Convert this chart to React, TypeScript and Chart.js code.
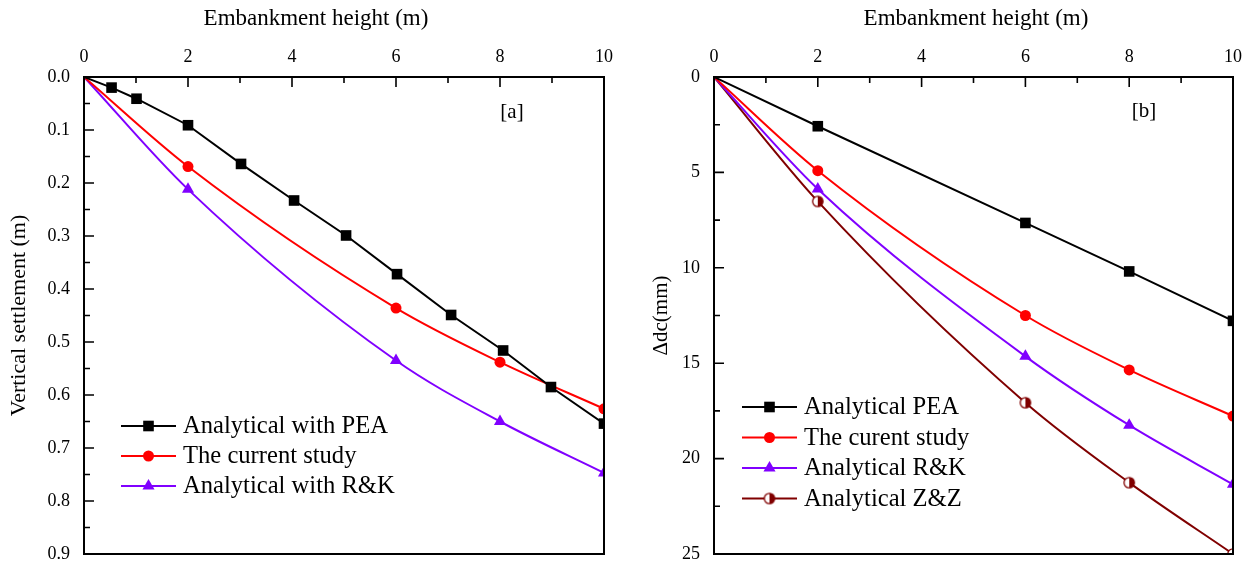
import React, { useEffect, useRef } from 'react';
import { Chart, registerables } from 'chart.js';

Chart.register(...registerables);

const FONT = '"Liberation Serif", "Times New Roman", serif';

// ---------- Panel [a] ----------
const heightPEA_a = [0, 0.53, 1.01, 2, 3.02, 4.04, 5.04, 6.02, 7.06, 8.06, 8.98, 10];
const settlePEA_a = [0, 0.02, 0.041, 0.091, 0.164, 0.233, 0.299, 0.372, 0.449, 0.516, 0.585, 0.654];
const heightCurrent_a = [0, 2, 6, 8, 10];
const settleCurrent_a = [0, 0.169, 0.436, 0.538, 0.626];
const heightRK_a = [0, 2, 6, 8, 10];
const settleRK_a = [0, 0.212, 0.535, 0.65, 0.747];
const settleTicks_a = [0, 0.1, 0.2, 0.3, 0.4, 0.5, 0.6, 0.7, 0.8, 0.9];

// ---------- Panel [b] ----------
const height_b = [0, 2, 6, 8, 10];
const dcPEA_b = [0, 2.58, 7.65, 10.19, 12.78];
const dcCurrent_b = [0, 4.91, 12.5, 15.35, 17.77];
const dcRK_b = [0, 5.87, 14.64, 18.25, 21.35];
const dcZZ_b = [0, 6.52, 17.07, 21.26, 25.0];
const dcTicks_b = [0, 5, 10, 15, 20, 25];

const heightTicks = [0, 2, 4, 6, 8, 10];

const xTitle = 'Embankment height (m)';
const labelsA = ['Analytical with PEA', 'The current study', 'Analytical with R&K'];
const labelsB = ['Analytical PEA', 'The curent study', 'Analytical R&K', 'Analytical Z&Z'];

const BLACK = '#000000';
const RED = '#ff0000';
const PURPLE = '#8000ff';
const MAROON = '#800000';

function makeHalfCircle(): HTMLCanvasElement {
  const c = document.createElement('canvas');
  c.width = 14;
  c.height = 14;
  const g = c.getContext('2d')!;
  const cx = 7, cy = 7, r = 5.2;
  g.fillStyle = '#ffffff';
  g.beginPath();
  g.arc(cx, cy, r, 0, Math.PI * 2);
  g.fill();
  g.fillStyle = MAROON;
  g.beginPath();
  g.moveTo(cx, cy - r);
  g.arc(cx, cy, r, -Math.PI / 2, Math.PI / 2);
  g.closePath();
  g.fill();
  g.strokeStyle = MAROON;
  g.lineWidth = 1.3;
  g.beginPath();
  g.arc(cx, cy, r, 0, Math.PI * 2);
  g.stroke();
  return c;
}

function zip(xs: number[], ys: number[]) {
  return xs.map((x, i) => ({ x, y: ys[i] }));
}

function midpoints(arr: number[]) {
  const out: number[] = [];
  for (let i = 0; i < arr.length - 1; i++) out.push((arr[i] + arr[i + 1]) / 2);
  return out;
}

type LegendItem = { label: string; color: string; style: any; radius: number };

function drawMarker(ctx: CanvasRenderingContext2D, style: any, x: number, y: number, r: number, color: string) {
  ctx.save();
  ctx.fillStyle = color;
  ctx.strokeStyle = color;
  ctx.lineWidth = 1;
  if (typeof style === 'object') {
    ctx.drawImage(style, x - style.width / 2, y - style.height / 2);
  } else if (style === 'rect') {
    const s = Math.SQRT1_2 * r;
    ctx.fillRect(x - s, y - s, 2 * s, 2 * s);
  } else if (style === 'circle') {
    ctx.beginPath();
    ctx.arc(x, y, r, 0, Math.PI * 2);
    ctx.fill();
  } else if (style === 'triangle') {
    ctx.beginPath();
    let rad = 0;
    ctx.moveTo(x + Math.sin(rad) * r, y - Math.cos(rad) * r);
    rad += (2 * Math.PI) / 3;
    ctx.lineTo(x + Math.sin(rad) * r, y - Math.cos(rad) * r);
    rad += (2 * Math.PI) / 3;
    ctx.lineTo(x + Math.sin(rad) * r, y - Math.cos(rad) * r);
    ctx.closePath();
    ctx.fill();
  }
  ctx.restore();
}

function framePlugin(xMajor: number[], yMajor: number[], titleDx: number, tag: string, tagDx: number, tagDy: number,
  legend: LegendItem[], legX: number, legY: number, legStep: number) {
  return {
    id: 'frameDecor',
    afterDraw(chart: any) {
      const ctx: CanvasRenderingContext2D = chart.ctx;
      const a = chart.chartArea;
      const xs = chart.scales.x;
      const ys = chart.scales.y;
      ctx.save();
      ctx.strokeStyle = '#000';
      ctx.lineWidth = 2;
      ctx.strokeRect(a.left, a.top, a.right - a.left, a.bottom - a.top);
      ctx.lineWidth = 1.6;
      ctx.beginPath();
      xMajor.forEach((v) => {
        const px = xs.getPixelForValue(v);
        ctx.moveTo(px, a.top);
        ctx.lineTo(px, a.top + 10);
      });
      midpoints(xMajor).forEach((v) => {
        const px = xs.getPixelForValue(v);
        ctx.moveTo(px, a.top);
        ctx.lineTo(px, a.top + 6);
      });
      yMajor.forEach((v) => {
        const py = ys.getPixelForValue(v);
        ctx.moveTo(a.left, py);
        ctx.lineTo(a.left + 10, py);
      });
      midpoints(yMajor).forEach((v) => {
        const py = ys.getPixelForValue(v);
        ctx.moveTo(a.left, py);
        ctx.lineTo(a.left + 6, py);
      });
      ctx.stroke();

      // x axis title
      ctx.fillStyle = '#000';
      ctx.font = `23px ${FONT}`;
      ctx.textAlign = 'center';
      ctx.textBaseline = 'middle';
      ctx.fillText(xTitle, a.left + titleDx, 19);

      // panel tag
      ctx.font = `21px ${FONT}`;
      ctx.fillText(tag, a.right - tagDx, a.top + tagDy);

      // legend
      legend.forEach((it, i) => {
        const y = a.top + legY + i * legStep;
        const x0 = a.left + legX;
        ctx.strokeStyle = it.color;
        ctx.lineWidth = 2;
        ctx.beginPath();
        ctx.moveTo(x0, y);
        ctx.lineTo(x0 + 55, y);
        ctx.stroke();
        drawMarker(ctx, it.style, x0 + 27.5, y, it.radius, it.color);
        ctx.fillStyle = '#000';
        ctx.font = `24.6px ${FONT}`;
        ctx.textAlign = 'left';
        ctx.textBaseline = 'middle';
        ctx.fillText(it.label, x0 + 62, y + 1);
      });
      ctx.restore();
    },
  };
}

function makeDataset(label: string, data: any[], color: string, style: any, radius: number, smooth: boolean) {
  return {
    label,
    data,
    borderColor: color,
    backgroundColor: color,
    borderWidth: 2,
    pointStyle: style,
    pointRadius: (c: any) => (c.dataIndex === 0 ? 0 : radius),
    pointBorderWidth: 0,
    pointBackgroundColor: color,
    tension: smooth ? 0.4 : 0,
    cubicInterpolationMode: smooth ? 'monotone' : 'default',
  };
}

function makeOptions(yMax: number, yTicks: number[], yTitle: string, yTitleSize: number, yTitlePad: number, rightPad: number, decimals: number) {
  return {
    responsive: false,
    animation: false,
    layout: { padding: { left: 0, right: rightPad, top: 0, bottom: 10 } },
    plugins: { legend: { display: false }, tooltip: { enabled: false } },
    scales: {
      x: {
        type: 'linear',
        position: 'top',
        min: 0,
        max: 10,
        afterBuildTicks: (s: any) => { s.ticks = heightTicks.map((v) => ({ value: v })); },
        afterFit: (s: any) => { s.height = 77; s.paddingLeft = 0; s.paddingRight = 0; },
        grid: { display: false, drawTicks: false },
        border: { display: false },
        ticks: { color: '#000', font: { family: FONT, size: 18 }, padding: 9, maxRotation: 0 },
        title: { display: false },
      },
      y: {
        type: 'linear',
        position: 'left',
        reverse: true,
        min: 0,
        max: yMax,
        afterBuildTicks: (s: any) => { s.ticks = yTicks.map((v) => ({ value: v })); },
        afterFit: (s: any) => { s.width = 84; s.paddingTop = 0; s.paddingBottom = 0; },
        grid: { display: false, drawTicks: false },
        border: { display: false },
        ticks: { color: '#000', font: { family: FONT, size: 18, lineHeight: 1 }, padding: 14, callback: (v: any) => Number(v).toFixed(decimals) },
        title: { display: true, text: yTitle, color: '#000', font: { family: FONT, size: yTitleSize }, padding: { top: yTitlePad, bottom: 0 } },
      },
    },
  };
}

function PanelA() {
  const ref = useRef<HTMLCanvasElement>(null);
  useEffect(() => {
    const legend: LegendItem[] = [
      { label: labelsA[0], color: BLACK, style: 'rect', radius: 7.5 },
      { label: labelsA[1], color: RED, style: 'circle', radius: 5.5 },
      { label: labelsA[2], color: PURPLE, style: 'triangle', radius: 7 },
    ];
    const chart = new Chart(ref.current!, {
      type: 'line',
      data: {
        datasets: [
          makeDataset(labelsA[0], zip(heightPEA_a, settlePEA_a), BLACK, 'rect', 7.5, false),
          makeDataset(labelsA[1], zip(heightCurrent_a, settleCurrent_a), RED, 'circle', 5.5, true),
          makeDataset(labelsA[2], zip(heightRK_a, settleRK_a), PURPLE, 'triangle', 7, true),
        ] as any,
      },
      options: makeOptions(0.9, settleTicks_a, 'Vertical settlement (m)', 22, 6, 26, 1) as any,
      plugins: [framePlugin(heightTicks, settleTicks_a, 232, '[a]', 92, 35, legend, 37, 349, 30)],
    });
    return () => chart.destroy();
  }, []);
  return <canvas ref={ref} width={630} height={564} style={{ position: 'absolute', left: 0, top: 0 }} />;
}

function PanelB() {
  const ref = useRef<HTMLCanvasElement>(null);
  useEffect(() => {
    const half = makeHalfCircle();
    const legend: LegendItem[] = [
      { label: labelsB[0], color: BLACK, style: 'rect', radius: 7.5 },
      { label: labelsB[1], color: RED, style: 'circle', radius: 5.5 },
      { label: labelsB[2], color: PURPLE, style: 'triangle', radius: 7 },
      { label: labelsB[3], color: MAROON, style: half, radius: 6 },
    ];
    const chart = new Chart(ref.current!, {
      type: 'line',
      data: {
        datasets: [
          makeDataset(labelsB[0], zip(height_b, dcPEA_b), BLACK, 'rect', 7.5, false),
          makeDataset(labelsB[1], zip(height_b, dcCurrent_b), RED, 'circle', 5.5, true),
          makeDataset(labelsB[2], zip(height_b, dcRK_b), PURPLE, 'triangle', 7, true),
          makeDataset(labelsB[3], zip(height_b, dcZZ_b), MAROON, half, 6, true),
        ] as any,
      },
      options: makeOptions(25, dcTicks_b, 'Δdc(mm)', 21, 19, 14, 0) as any,
      plugins: [framePlugin(heightTicks, dcTicks_b, 262, '[b]', 89, 34, legend, 28, 330, 30.5)],
    });
    return () => chart.destroy();
  }, []);
  return <canvas ref={ref} width={617} height={564} style={{ position: 'absolute', left: 630, top: 0 }} />;
}

export default function App() {
  return (
    <div style={{ position: 'absolute', left: 0, top: 0, width: 1247, height: 564, background: '#fff' }}>
      <PanelA />
      <PanelB />
    </div>
  );
}
